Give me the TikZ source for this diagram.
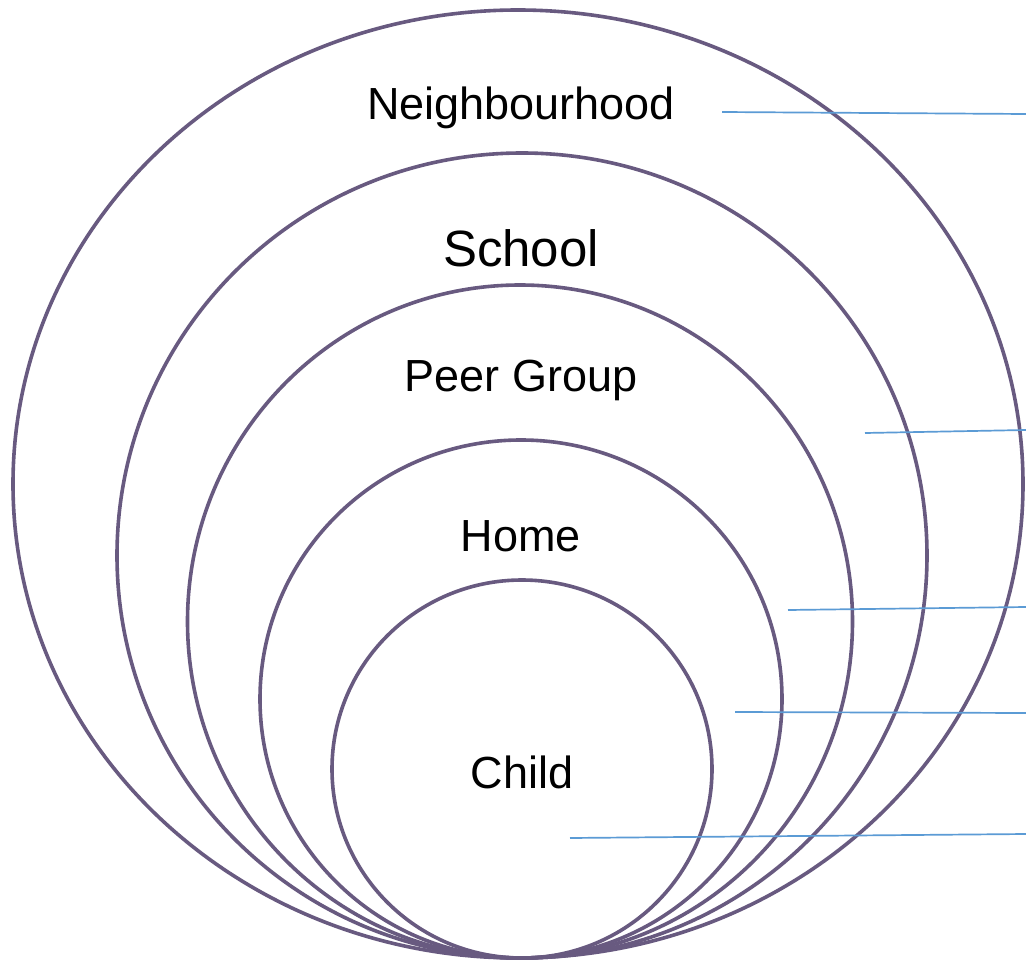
\documentclass[tikz,border=0pt]{standalone}
\usepackage{fontspec}
\setmainfont{Liberation Sans}
\usetikzlibrary{shapes.geometric}
\definecolor{ringcol}{HTML}{685A80}
\definecolor{linecol}{HTML}{5B9BD5}
\begin{document}
\begin{tikzpicture}[x=1pt,y=-1pt,
  ring/.style={draw=ringcol, line width=3.6pt, ellipse, inner sep=0pt, outer sep=0pt},
  lbl/.style={font=\fontsize{45}{54}\selectfont, text=black, inner sep=0pt},
  pointer/.style={draw=linecol, line width=1.7pt}]
\useasboundingbox (0,0) rectangle (1026,963);
\fill[white] (0,0) rectangle (1026,963);
\node[ring, minimum width=1010pt, minimum height=948pt] (r1) at (518,484) {};
\node[ring, minimum width=810pt, minimum height=805pt] (r2) at (522,555.5) {};
\node[ring, minimum width=665pt, minimum height=673pt] (r3) at (520,621.5) {};
\node[ring, minimum width=522pt, minimum height=518pt] (r4) at (521,699) {};
\node[ring, minimum width=380pt, minimum height=378pt] (r5) at (522,769) {};
\node[lbl] (t1) at (521,108) {Neighbourhood};
\node[lbl, font=\fontsize{51}{60}\selectfont] (t2) at (521,248) {School};
\node[lbl] (t3) at (521,380) {Peer Group};
\node[lbl] (t4) at (521,536) {Home};
\node[lbl] (t5) at (522,772) {Child};
\coordinate (a1) at (722,112); \coordinate (b1) at (1026,114);
\coordinate (a2) at (865,433); \coordinate (b2) at (1026,430);
\coordinate (a3) at (788,610); \coordinate (b3) at (1026,607);
\coordinate (a4) at (735,712); \coordinate (b4) at (1026,713);
\coordinate (a5) at (570,838); \coordinate (b5) at (1026,834);
\draw[pointer] (a1) -- (b1);
\draw[pointer] (a2) -- (b2);
\draw[pointer] (a3) -- (b3);
\draw[pointer] (a4) -- (b4);
\draw[pointer] (a5) -- (b5);
\end{tikzpicture}
\end{document}
